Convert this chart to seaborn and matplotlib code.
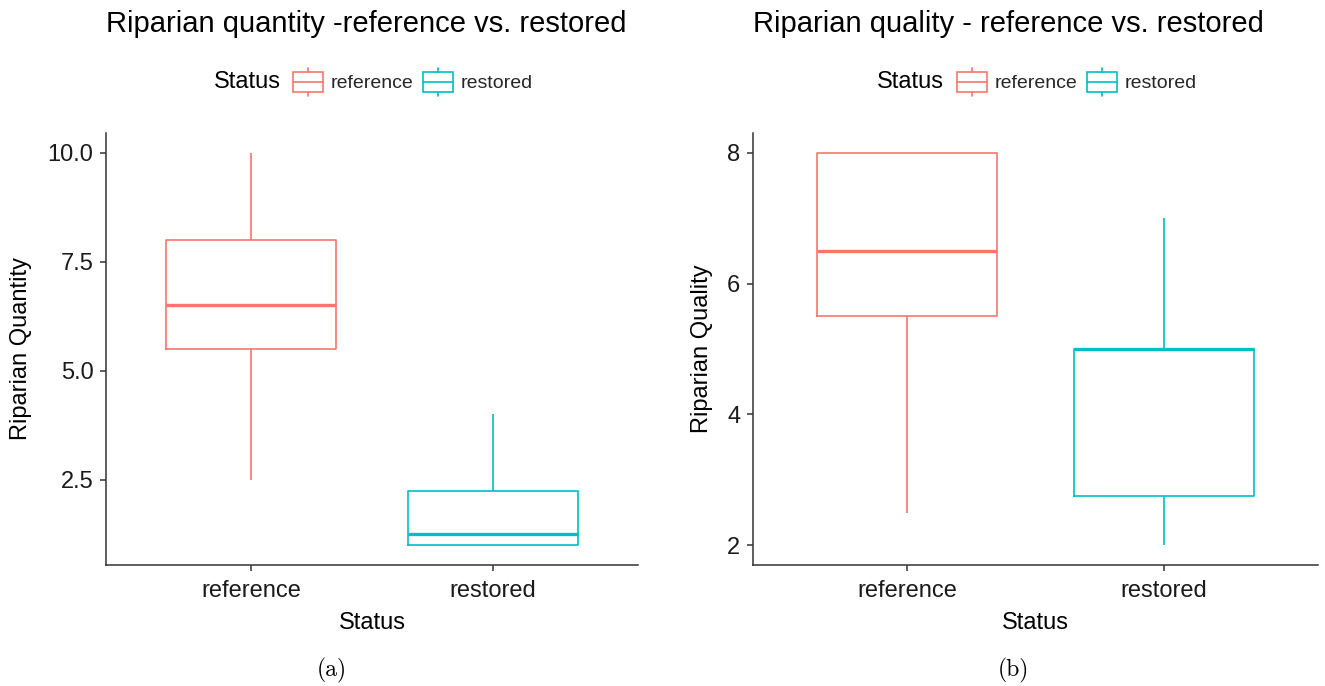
import numpy as np
import pandas as pd
import matplotlib
matplotlib.use('Agg')
import matplotlib.pyplot as plt
import seaborn as sns
from matplotlib.legend_handler import HandlerBase
from matplotlib.patches import Rectangle
from matplotlib.lines import Line2D

# ---------------- data (five-number summaries) ----------------
status = ['reference', 'restored']
quantity_reference = [2.5, 5.5, 6.5, 8.0, 10.0]
quantity_restored = [1.0, 1.0, 1.25, 2.25, 4.0]
quality_reference = [2.5, 5.5, 6.5, 8.0, 8.0]
quality_restored = [2.0, 2.75, 5.0, 5.0, 7.0]

quantity_ticks = [2.5, 5.0, 7.5, 10.0]
quantity_ticklabels = ['2.5', '5.0', '7.5', '10.0']
quality_ticks = [2, 4, 6, 8]
quality_ticklabels = ['2', '4', '6', '8']

titles = ['Riparian quantity -reference vs. restored',
          'Riparian quality - reference vs. restored']
ylabels = ['Riparian Quantity', 'Riparian Quality']
captions = ['(a)', '(b)']
colors = ['#F8766D', '#00BFC4']

# ---------------- style ----------------
sns.set_style('ticks')
plt.rcParams['font.family'] = ['Liberation Sans', 'DejaVu Sans']

W, H = 1325, 686
fig = plt.figure(figsize=(W / 100, H / 100), dpi=100)


def fx(px):
    return px / W


def fy(py):
    return 1 - py / H


class BoxKeyHandler(HandlerBase):
    def create_artists(self, legend, orig_handle, xdescent, ydescent,
                       width, height, fontsize, trans):
        c = orig_handle.get_color()
        x0, y0 = -xdescent, -ydescent
        ym = y0 + height / 2
        bh = height * 0.69
        xm = x0 + width / 2
        rect = Rectangle((x0, ym - bh / 2), width, bh, facecolor='none',
                         edgecolor=c, lw=1.2, transform=trans)
        med = Line2D([x0, x0 + width], [ym, ym], color=c, lw=1.2, transform=trans)
        w1 = Line2D([xm, xm], [ym + bh / 2, y0 + height], color=c, lw=1.2, transform=trans)
        w2 = Line2D([xm, xm], [y0, ym - bh / 2], color=c, lw=1.2, transform=trans)
        return [rect, med, w1, w2]


panels = [
    dict(left=106, right=638, values=[quantity_reference, quantity_restored],
         ticks=quantity_ticks, ticklabels=quantity_ticklabels,
         status_x=214, key_x=293, ylab_x=21, cap_x=332),
    dict(left=753, right=1318, values=[quality_reference, quality_restored],
         ticks=quality_ticks, ticklabels=quality_ticklabels,
         status_x=877, key_x=957, ylab_x=702, cap_x=1013),
]
top, bottom = 133, 565
axis_col = '#333333'

for i, p in enumerate(panels):
    ax = fig.add_axes([fx(p['left']), fy(bottom), fx(p['right'] - p['left']),
                       (bottom - top) / H])
    a, b = p['values']
    df = pd.DataFrame({'Status': [status[0]] * len(a) + [status[1]] * len(b),
                       'value': a + b})
    sns.boxplot(data=df, x='Status', y='value', hue='Status', order=status,
                hue_order=status, palette=colors, saturation=1, fill=False,
                width=0.7, whis=1.5, showcaps=False, linewidth=1.2,
                medianprops={'linewidth': 2.4}, legend=False, ax=ax)

    allv = np.array(a + b)
    lo, hi = allv.min(), allv.max()
    pad = 0.05 * (hi - lo)
    ax.set_ylim(lo - pad, hi + pad)
    ax.set_xlim(-0.6, 1.6)
    ax.set_yticks(p['ticks'])
    ax.set_yticklabels(p['ticklabels'])

    sns.despine(ax=ax)
    for s in ['left', 'bottom']:
        ax.spines[s].set_color(axis_col)
        ax.spines[s].set_linewidth(1.1)
    ax.tick_params(axis='both', length=4, width=1.1, color=axis_col,
                   labelsize=17, labelcolor='#1a1a1a')
    ax.tick_params(axis='y', pad=5)
    ax.tick_params(axis='x', pad=7)

    ax.set_xlabel('Status', fontsize=17, color='black')
    ax.xaxis.set_label_coords(0.5, (bottom - 623) / (bottom - top))
    ax.xaxis.label.set_va('center')
    ax.set_ylabel(ylabels[i], fontsize=17, color='black')
    ax.yaxis.set_label_coords((p['ylab_x'] - p['left']) / (p['right'] - p['left']), 0.5)
    ax.yaxis.label.set_va('center')

    fig.text(fx(p['left']), fy(32), titles[i], fontsize=21, ha='left',
             va='baseline', color='black')

    fig.text(fx(p['status_x']), fy(82), 'Status', fontsize=17, ha='left',
             va='center', color='black')
    handles = [Line2D([], [], color=c) for c in colors]
    leg = fig.legend(handles, status, loc='center left',
                     bbox_to_anchor=(fx(p['key_x']), fy(82)),
                     bbox_transform=fig.transFigure, ncol=2, frameon=False,
                     fontsize=14, borderpad=0, borderaxespad=0,
                     handlelength=1.54, handleheight=1.86,
                     handletextpad=0.41, columnspacing=0.46,
                     handler_map={Line2D: BoxKeyHandler()})

    fig.text(fx(p['cap_x']), fy(670), captions[i], fontsize=17,
             family='cmr10', ha='center', va='center', color='black')

fig.savefig('out.png', dpi=100)
